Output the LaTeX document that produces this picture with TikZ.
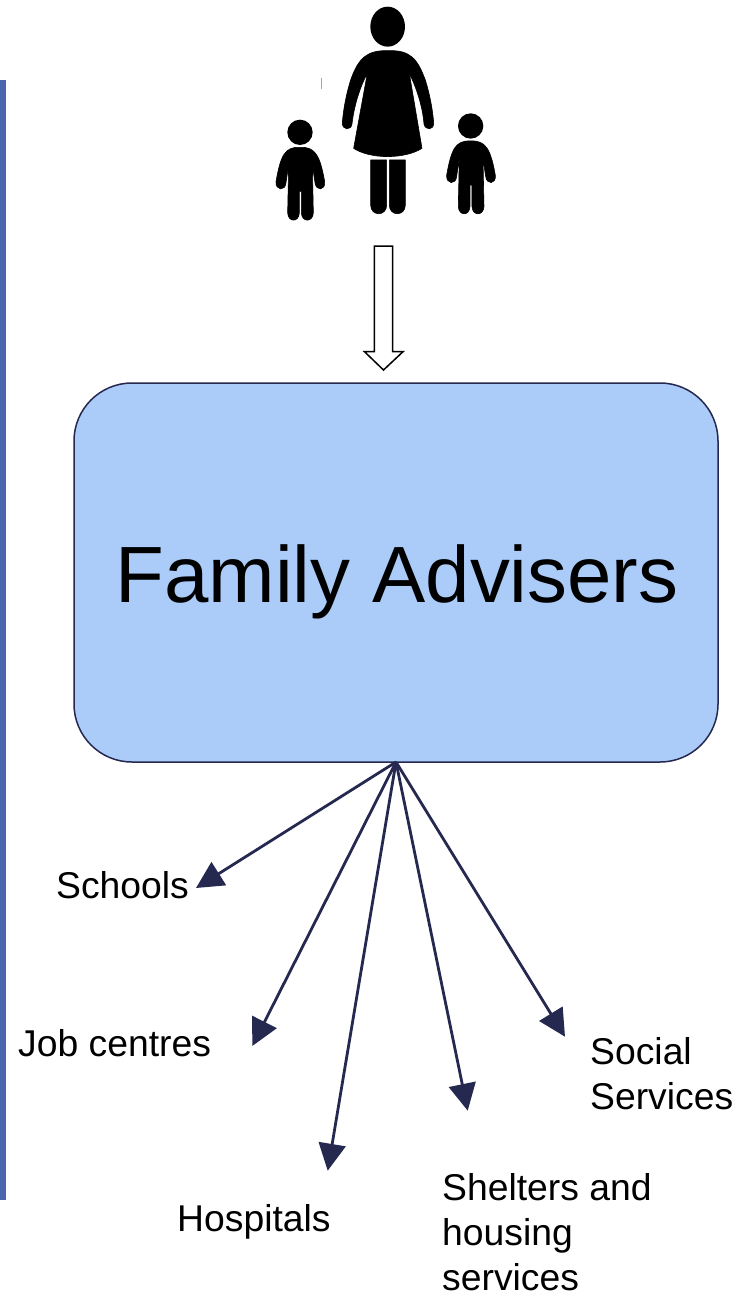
\documentclass[tikz,border=0pt]{standalone}
\usepackage{fontspec}
\setmainfont{Liberation Sans}
\usetikzlibrary{arrows.meta}
\definecolor{navy}{HTML}{25284F}
\definecolor{boxblue}{HTML}{ABCBF8}
\definecolor{barblue}{HTML}{4A66AC}
\tikzset{
  advisers/.style={draw=navy,line width=1.5pt,fill=boxblue,rounded corners=58pt,minimum width=644pt,minimum height=379pt,inner sep=0pt},
  boxtext/.style={inner sep=0pt,anchor=base,font=\fontsize{79.8}{90}\selectfont},
  fanarrow/.style={draw=navy,line width=2.8pt,-{Triangle[length=27pt,width=27pt,fill=navy]}},
  lbl/.style={anchor=base west,inner sep=0pt,font=\fontsize{37.3}{45}\selectfont},
  hollow/.style={draw=black,line width=1.5pt,fill=white,line join=miter},
  silhouette/.style={fill=black,draw=black,line width=0.6pt,line join=round},
}
\newcommand{\childshape}{%
  \fill (120,397) circle (38);
  \path[silhouette] (120,442) .. controls (75,440) and (62,465) .. (48,545)
    .. controls (46,572) and (76,575) .. (78,548)
    -- (86,495) -- (83,638)
    .. controls (84,668) and (117,668) .. (118,638)
    -- (118,574) -- (124,574) -- (124,638)
    .. controls (125,668) and (159,668) .. (160,638)
    -- (157,495) -- (165,548)
    .. controls (168,575) and (197,572) .. (194,545)
    .. controls (180,465) and (165,440) .. (120,442) -- cycle;
}
\begin{document}
\begin{tikzpicture}[x=1pt,y=-1pt]
\useasboundingbox (0,0) rectangle (736,1292);
% side bar
\fill[barblue] (0,80) rectangle (6,1200);
% family
\begin{scope}[shift={(260,0)},x=0.3333pt,y=-0.3333pt]
  \fill (383,80) ellipse (52 and 60);
  \path[silhouette] (385,152) .. controls (320,150) and (295,175) .. (272,240)
    .. controls (258,285) and (250,330) .. (247,368)
    .. controls (246,392) and (274,392) .. (276,372)
    .. controls (282,320) and (298,265) .. (322,220)
    -- (281,445) .. controls (330,478) and (435,478) .. (486,445)
    -- (448,220)
    .. controls (470,265) and (488,320) .. (492,372)
    .. controls (496,392) and (522,392) .. (521,368)
    .. controls (518,330) and (510,285) .. (496,240)
    .. controls (472,175) and (450,150) .. (385,152) -- cycle;
  \path[silhouette] (332,480) -- (380,480) -- (380,615) .. controls (380,650) and (332,650) .. (332,615) -- cycle;
  \path[silhouette] (388,480) -- (436,480) -- (436,615) .. controls (436,650) and (388,650) .. (388,615) -- cycle;
  \childshape
  \begin{scope}[shift={(512,-19)}]
    \childshape
  \end{scope}
  \fill[black!35] (184,235) rectangle (187,268);
\end{scope}
% hollow arrow
\draw[hollow] (374.3,246) -- (392.7,246) -- (392.7,351.7) -- (403,351.7) -- (383.5,370) -- (364.5,351.7) -- (374.3,351.7) -- cycle;
% main box
\node[advisers] (fa) at (396,572.5) {};
\node[boxtext] (falabel) at (397,602.3) {Family Advisers};
% labels
\node[lbl] (schools) at (56,898) {Schools};
\node[lbl] (jobs) at (18,1056) {Job centres};
\node[lbl] (hospitals) at (177,1231) {Hospitals};
\node[lbl] (social) at (590,1064) {Social};
\node[lbl] (social2) at (590,1109) {Services};
\node[lbl] (shelters) at (442,1200) {Shelters and};
\node[lbl] (shelters2) at (442,1245) {housing};
\node[lbl] (shelters3) at (442,1290) {services};
% fan
\coordinate (hub) at (396,762);
\coordinate (tschools) at (196,888);
\coordinate (tjobs) at (252.3,1046);
\coordinate (thosp) at (327.7,1170.7);
\coordinate (tshel) at (467.7,1110.7);
\coordinate (tsoc) at (565,1036.7);
\draw[fanarrow] (hub) -- (tschools);
\draw[fanarrow] (hub) -- (tjobs);
\draw[fanarrow] (hub) -- (thosp);
\draw[fanarrow] (hub) -- (tshel);
\draw[fanarrow] (hub) -- (tsoc);
\end{tikzpicture}
\end{document}
